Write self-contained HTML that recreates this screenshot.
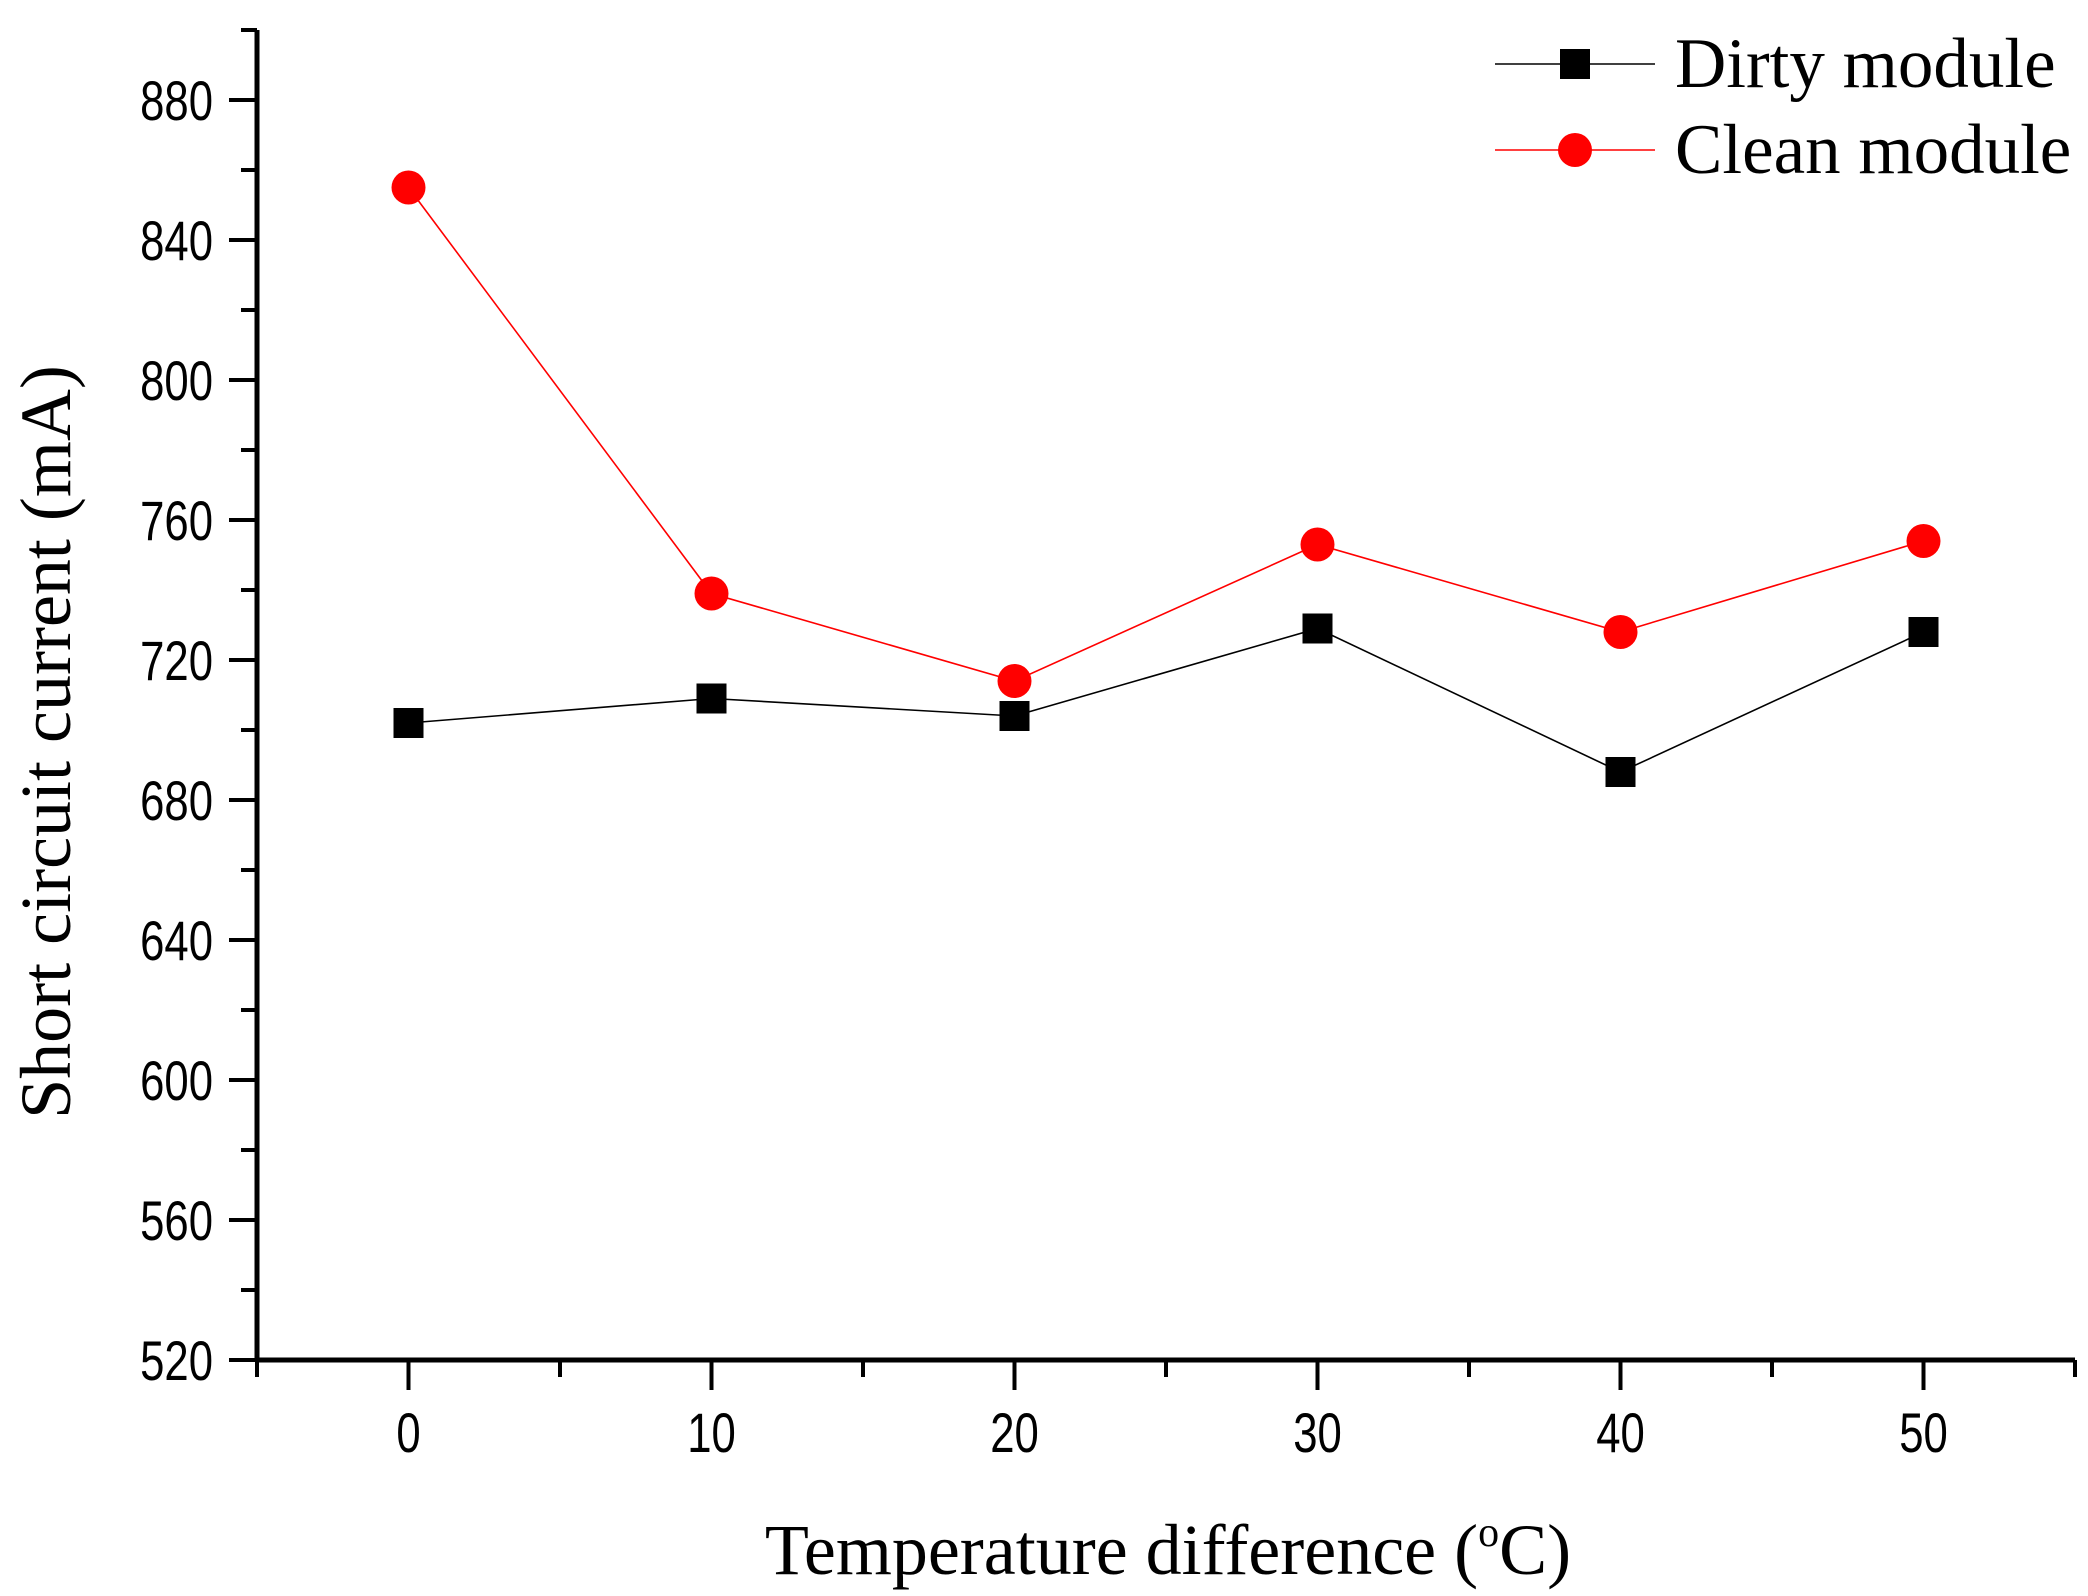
<!DOCTYPE html>
<html><head><meta charset="utf-8"><style>
html,body{margin:0;padding:0;background:#fff;}
svg{display:block;}
.tick{font-family:"Liberation Sans",sans-serif;font-size:56px;fill:#000;}
.title{font-family:"Liberation Serif",serif;fill:#000;}
</style></head><body>
<svg id="chart" width="2088" height="1596" viewBox="0 0 2088 1596">
<rect width="2088" height="1596" fill="#fff"/>
<g id="layer"></g>
</svg>
<script>
const xCategories = [0, 10, 20, 30, 40, 50];
const dirtyValues = [702, 709, 704, 729, 688, 728];
const cleanValues = [855, 739, 714, 753, 728, 754];
const yTickLabels = [520, 560, 600, 640, 680, 720, 760, 800, 840, 880];
const xTickLabels = [0, 10, 20, 30, 40, 50];

const NS = "http://www.w3.org/2000/svg";
const L = 257, R = 2075, T = 30, B = 1360;
const xMin = -5, xMax = 55, yMin = 520, yMax = 900;
function xs(v){ return L + (v - xMin) / (xMax - xMin) * (R - L); }
function ys(v){ return B - (v - yMin) / (yMax - yMin) * (B - T); }
const g = document.getElementById('layer');
function mk(tag, attrs, parent){
  const e = document.createElementNS(NS, tag);
  for (const k in attrs) e.setAttribute(k, attrs[k]);
  (parent || g).appendChild(e);
  return e;
}

let e = mk('line', {x1:L, y1:T, x2:L, y2:B+2, stroke:'#000', 'stroke-width':5});


e = mk('line', {x1:L-2, y1:B, x2:R, y2:B, stroke:'#000', 'stroke-width':5});



for (let v = yMin; v <= yMax; v += 20) {
  const major = (v % 40 === 0);
  e = mk('line', {x1:L - (major ? 28 : 16), y1:ys(v), x2:L, y2:ys(v), stroke:'#000', 'stroke-width':4});
  
  
}
yTickLabels.forEach(v => {
  const t = mk('text', {x:213, y:ys(v) + 20, 'text-anchor':'end', class:'tick', transform:`translate(213,0) scale(0.78,1) translate(-213,0)`});
  t.textContent = v;
  
  
});
for (let v = -5; v <= 55; v += 5) {
  const major = (v % 10 === 0);
  e = mk('line', {x1:xs(v), y1:B, x2:xs(v), y2:B + (major ? 30 : 17), stroke:'#000', 'stroke-width':4});
  
  
}
xTickLabels.forEach(v => {
  const x = xs(v);
  const t = mk('text', {x:x, y:1452, 'text-anchor':'middle', class:'tick', transform:`translate(${x},0) scale(0.78,1) translate(${-x},0)`});
  t.textContent = v;
  
  
});

let t = mk('text', {x:1168, y:1574, 'text-anchor':'middle', class:'title', 'font-size':72});
t.innerHTML = 'Temperature difference (<tspan dy="-28" font-size="42">o</tspan><tspan dy="28">C)</tspan>';


t = mk('text', {x:0, y:0, 'text-anchor':'middle', class:'title', 'font-size':72, transform:'translate(70,742) rotate(-90)'});
t.textContent = 'Short circuit current (mA)';



function series(vals, color, kind, name){
  const pts = vals.map((v,i) => xs(xCategories[i]) + ',' + ys(v)).join(' ');
  const pl = mk('polyline', {points:pts, fill:'none', stroke:color, 'stroke-width':1.6});
  
  
  vals.forEach((v,i) => {
    const cx = xs(xCategories[i]), cy = ys(v);
    let m;
    if (kind === 'square') m = mk('rect', {x:cx-15, y:cy-15, width:30, height:30, fill:color});
    else m = mk('circle', {cx:cx, cy:cy, r:17, fill:color});
    
    
  });
}
series(dirtyValues, '#000', 'square', 'dirty-module');
series(cleanValues, '#ff0000', 'circle', 'clean-module');

const lg = mk('g', {});


[['Dirty module','#000','square',64],['Clean module','#ff0000','circle',150]].forEach(([lab,c,k,y]) => {
  const ln = mk('line', {x1:1495, y1:y, x2:1655, y2:y, stroke:c, 'stroke-width':1.6}, lg);
  
  
  let m;
  if (k === 'square') m = mk('rect', {x:1560, y:y-15, width:30, height:30, fill:c}, lg);
  else m = mk('circle', {cx:1575, cy:y, r:17, fill:c}, lg);
  
  
  const tx = mk('text', {x:1675, y:y+23, class:'title', 'font-size':71}, lg);
  tx.textContent = lab;
  
  
});
</script>
</body></html>
